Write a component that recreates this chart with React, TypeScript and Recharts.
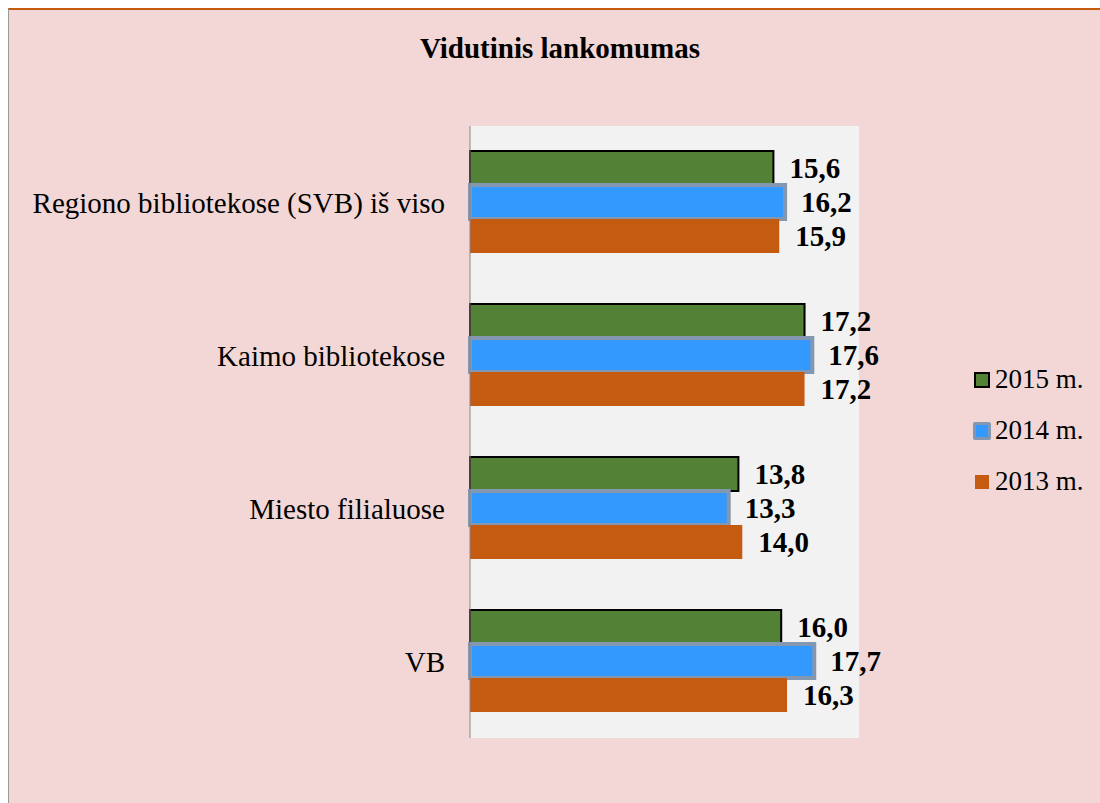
import React from 'react'
import {
  BarChart,
  Bar,
  XAxis,
  YAxis,
  CartesianGrid,
  LabelList,
} from 'recharts'

const categories = [
  'Regiono bibliotekose (SVB) iš viso',
  'Kaimo bibliotekose',
  'Miesto filialuose',
  'VB',
]
const values2015 = [15.6, 17.2, 13.8, 16.0]
const values2014 = [16.2, 17.6, 13.3, 17.7]
const values2013 = [15.9, 17.2, 14.0, 16.3]

const SERIF = '"Liberation Serif", "Times New Roman", serif'

const series = [
  { key: 'y2015', name: '2015 m.', fill: '#538135', stroke: '#000000', strokeWidth: 2 },
  { key: 'y2014', name: '2014 m.', fill: '#3399ff', stroke: '#8497b0', strokeWidth: 4 },
  { key: 'y2013', name: '2013 m.', fill: '#c55a11', stroke: 'none', strokeWidth: 0 },
]

const data = categories.map((name, i) => ({
  name,
  y2015: values2015[i],
  y2014: values2014[i],
  y2013: values2013[i],
}))

const fmt = (v: any) => Number(v).toFixed(1).replace('.', ',')

const LegendBox = () => (
  <div style={{ position: 'absolute', left: 962, top: 344, fontFamily: SERIF }}>
    {series.map((s) => (
      <div
        key={s.key}
        style={{ display: 'flex', alignItems: 'center', height: 51, fontSize: 27, color: '#000' }}
      >
        <div style={{ width: 22, display: 'flex', justifyContent: 'center', alignItems: 'center' }}>
          <div
            style={{
              width: s.key === 'y2013' ? 14 : s.key === 'y2014' ? 12 : 12,
              height: s.key === 'y2013' ? 14 : s.key === 'y2014' ? 12 : 12,
              background: s.fill,
              border: s.strokeWidth ? `${s.key === 'y2014' ? 3 : 2}px solid ${s.stroke}` : 'none',
              borderRadius: s.key === 'y2014' ? 2 : 0,
            }}
          />
        </div>
        <span style={{ marginLeft: 2 }}>{s.name}</span>
      </div>
    ))}
  </div>
)

export default function App() {
  return (
    <div
      style={{
        position: 'fixed',
        left: 8,
        top: 8,
        width: 1092,
        height: 795,
        boxSizing: 'border-box',
        background: '#f2d7d6',
        borderTop: '2px solid #c55a11',
        borderLeft: '1px solid #999999',
        fontFamily: SERIF,
      }}
    >
      <div
        style={{
          position: 'absolute',
          left: 251,
          top: 24,
          width: 600,
          textAlign: 'center',
          fontWeight: 'bold',
          fontSize: 29,
          lineHeight: 1,
          color: '#000',
        }}
      >
        Vidutinis lankomumas
      </div>
      <div style={{ position: 'absolute', left: 0, top: 0 }}>
        <BarChart
          width={1091}
          height={793}
          data={data}
          layout="vertical"
          margin={{ top: 116, right: 241, bottom: 65, left: 0 }}
          barCategoryGap={25}
          barGap={0}
        >
          <CartesianGrid fill="#f2f2f2" stroke="none" />
          <XAxis type="number" domain={[0, 20]} hide />
          <YAxis
            type="category"
            dataKey="name"
            width={461}
            axisLine={{ stroke: '#868686', strokeWidth: 1 }}
            tickLine={false}
            tickSize={0}
            tickMargin={25}
            tick={{ fill: '#000', fontSize: 29, fontFamily: SERIF }}
          />
          {series.map((s) => (
            <Bar
              key={s.key}
              dataKey={s.key}
              name={s.name}
              fill={s.fill}
              stroke={s.stroke}
              strokeWidth={s.strokeWidth}
              isAnimationActive={false}
            >
              <LabelList
                dataKey={s.key}
                position="right"
                offset={16}
                formatter={fmt}
                style={{ fill: '#000', fontSize: 29, fontWeight: 'bold', fontFamily: SERIF }}
              />
            </Bar>
          ))}
        </BarChart>
      </div>
      <LegendBox />
    </div>
  )
}
